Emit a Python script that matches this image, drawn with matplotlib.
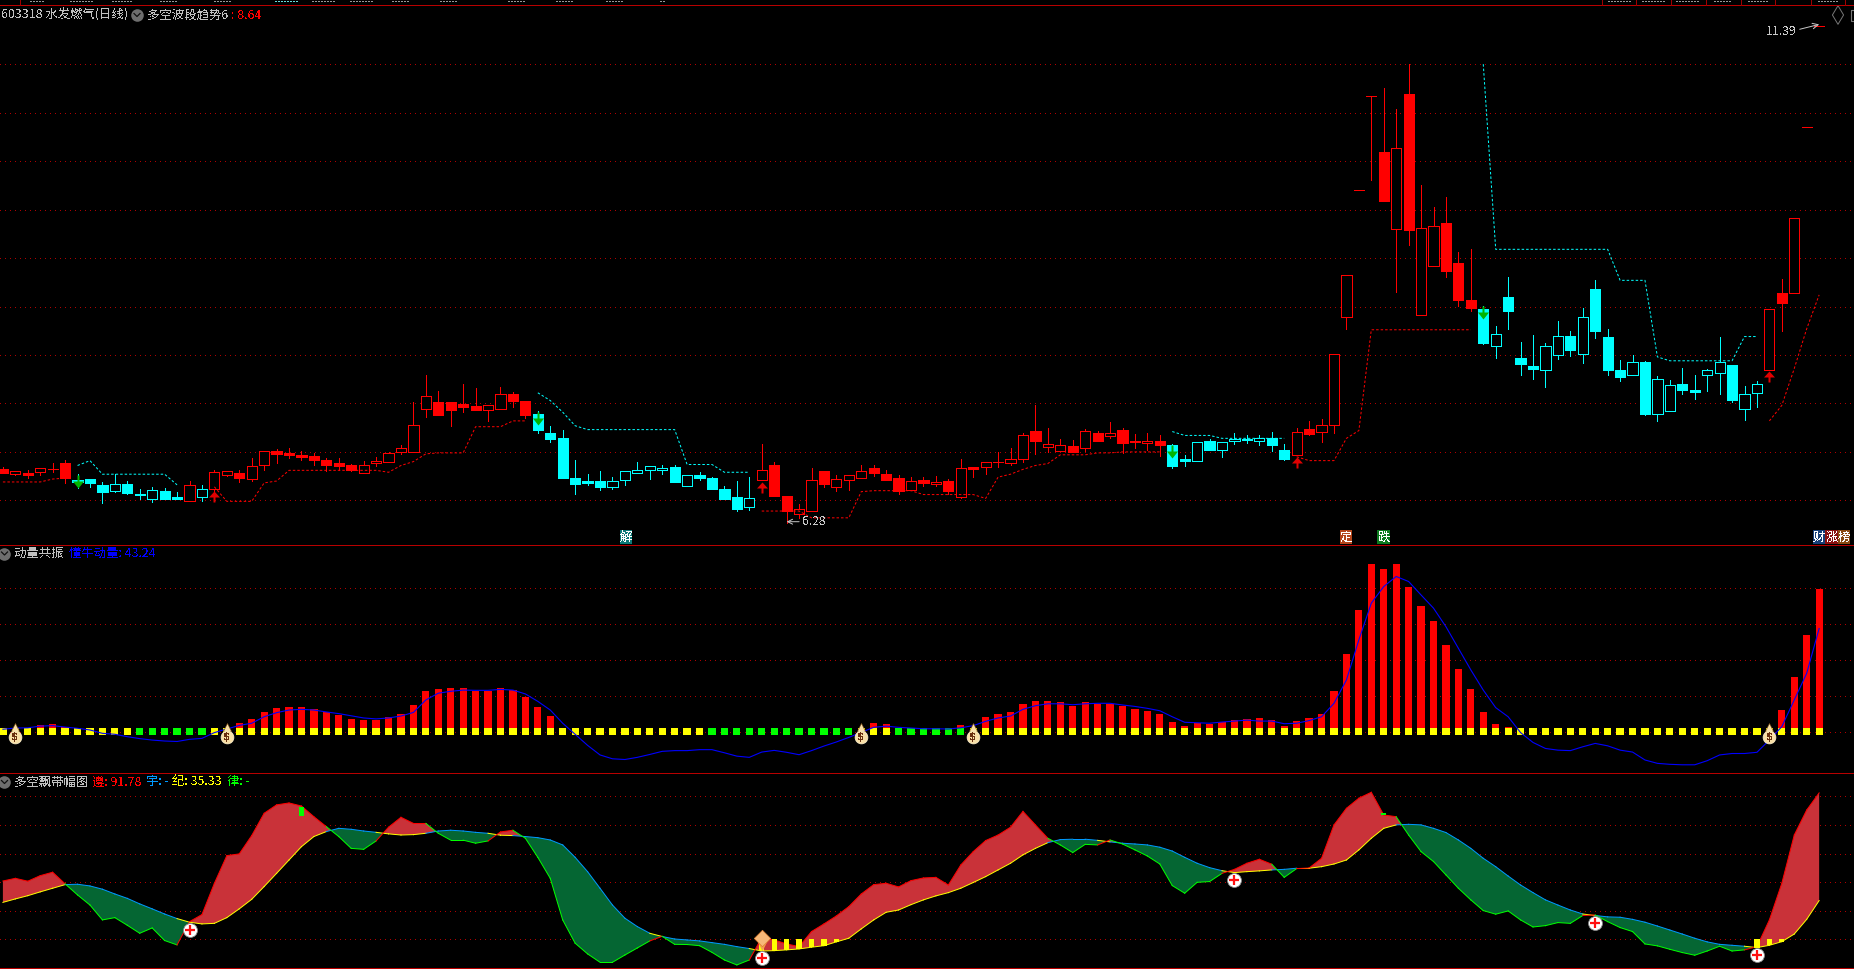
import numpy as np
import matplotlib
matplotlib.use("Agg")
import matplotlib.pyplot as plt
from matplotlib.patches import Rectangle

plt.rcParams['font.family'] = ['Noto Sans CJK SC', 'DejaVu Sans']
plt.rcParams['text.antialiased'] = False

W, H = 1854, 969

# ---------- main panel: daily candles ----------
opens = [6.82,6.77,6.78,6.79,6.82,6.89,6.71,6.72,6.66,6.60,
 6.67,6.57,6.51,6.60,6.53,6.49,6.54,6.62,6.76,6.78,
 6.72,6.86,7.01,6.99,6.97,6.96,6.92,6.89,6.87,6.78,
 6.89,6.90,7.00,7.00,7.44,7.51,7.52,7.49,7.47,7.43,
 7.44,7.60,7.53,7.39,7.19,7.14,6.73,6.70,6.70,6.64,
 6.71,6.78,6.81,6.81,6.84,6.65,6.76,6.73,6.62,6.53,
 6.43,6.71,6.87,6.55,6.36,6.39,6.80,6.64,6.71,6.73,
 6.83,6.77,6.73,6.61,6.71,6.67,6.70,6.53,6.84,6.84,
 6.90,6.89,6.93,7.22,7.05,7.01,7.06,7.04,7.19,7.16,
 7.23,7.11,7.09,7.11,7.07,6.93,6.91,7.11,7.02,7.11,
 7.13,7.11,7.14,7.02,6.97,7.24,7.21,7.28,8.39,9.70,
 10.67,10.09,9.30,10.69,8.41,8.92,9.36,8.95,8.57,8.47,
 8.09,8.60,7.97,7.89,7.85,8.00,8.20,8.01,8.68,8.19,
 7.85,7.79,7.93,7.39,7.42,7.70,7.64,7.79,7.81,7.90,
 7.44,7.61,7.84,8.64,8.64,10.35,11.39]
closes = [6.78,6.80,6.76,6.83,6.82,6.73,6.69,6.68,6.59,6.67,
 6.58,6.56,6.61,6.51,6.51,6.66,6.62,6.79,6.80,6.73,
 6.85,7.01,6.98,6.97,6.95,6.92,6.87,6.85,6.81,6.86,
 6.91,6.99,7.04,7.28,7.58,7.38,7.43,7.46,7.43,7.48,
 7.60,7.53,7.38,7.23,7.13,6.73,6.67,6.68,6.64,6.70,
 6.80,6.81,6.85,6.83,6.69,6.76,6.73,6.62,6.51,6.41,
 6.52,6.81,6.55,6.39,6.41,6.71,6.67,6.72,6.76,6.80,
 6.78,6.71,6.60,6.70,6.68,6.69,6.60,6.83,6.82,6.90,
 6.90,6.93,7.17,7.11,7.08,7.07,7.00,7.22,7.11,7.20,
 7.09,7.10,7.11,7.07,6.85,6.91,7.10,7.02,7.10,7.13,
 7.12,7.14,7.07,6.93,7.21,7.18,7.28,8.01,8.82,9.70,
 10.67,9.59,10.13,9.29,9.31,9.33,8.87,8.57,8.48,8.12,
 8.22,8.45,7.91,7.86,8.09,8.20,8.05,8.39,8.25,7.85,
 7.77,7.93,7.39,7.75,7.69,7.64,7.62,7.85,7.93,7.54,
 7.60,7.70,8.47,8.54,9.41,10.35,11.39]
highs = [6.84,6.80,6.81,6.83,6.89,6.92,6.77,6.72,6.69,6.77,
 6.70,6.62,6.64,6.63,6.59,6.70,6.66,6.81,6.80,6.81,
 6.94,7.01,7.03,7.04,7.01,6.99,6.94,6.94,6.88,6.91,
 6.95,7.00,7.07,7.51,7.79,7.63,7.52,7.70,7.66,7.48,
 7.67,7.62,7.53,7.42,7.27,7.23,6.92,6.77,6.80,6.74,
 6.80,6.90,6.85,6.87,6.86,6.76,6.79,6.74,6.65,6.70,
 6.74,7.08,6.90,6.55,6.46,6.83,6.80,6.76,6.76,6.87,
 6.87,6.81,6.76,6.74,6.74,6.75,6.72,6.93,6.84,6.90,
 7.00,7.04,7.19,7.48,7.25,7.13,7.12,7.24,7.22,7.31,
 7.25,7.18,7.20,7.17,7.08,6.97,7.10,7.13,7.10,7.20,
 7.17,7.17,7.21,7.08,7.25,7.32,7.34,8.01,8.82,9.70,
 10.67,10.75,10.54,11.00,9.75,9.53,9.63,9.06,9.09,8.51,
 8.30,8.80,8.13,8.21,8.12,8.35,8.25,8.48,8.77,8.27,
 7.95,8.00,7.94,7.78,7.74,7.87,7.79,7.86,8.19,7.90,
 7.68,7.73,8.47,8.78,9.41,10.35,11.39]
lows = [6.78,6.76,6.73,6.76,6.79,6.68,6.63,6.64,6.47,6.59,
 6.57,6.51,6.48,6.51,6.51,6.49,6.49,6.49,6.75,6.69,
 6.70,6.81,6.89,6.94,6.92,6.87,6.80,6.81,6.80,6.78,
 6.85,6.90,6.98,7.00,7.36,7.38,7.27,7.41,7.43,7.32,
 7.44,7.46,7.35,7.20,7.10,6.73,6.57,6.66,6.61,6.62,
 6.66,6.78,6.72,6.77,6.69,6.65,6.71,6.62,6.51,6.39,
 6.40,6.71,6.55,6.27,6.32,6.39,6.64,6.60,6.61,6.73,
 6.75,6.71,6.57,6.61,6.65,6.65,6.57,6.52,6.74,6.77,
 6.84,6.87,6.90,6.98,7.00,7.01,7.00,7.01,7.11,7.14,
 6.99,7.04,7.02,6.96,6.83,6.85,6.91,7.02,6.95,7.08,
 7.09,7.07,7.01,6.92,6.97,7.17,7.10,7.20,8.27,9.70,
 9.80,9.59,8.65,9.13,8.41,8.92,8.80,8.51,8.45,8.11,
 7.97,8.27,7.79,7.75,7.67,7.96,7.99,7.92,8.18,7.79,
 7.73,7.79,7.38,7.32,7.42,7.60,7.55,7.63,7.60,7.51,
 7.33,7.46,7.84,8.25,8.64,10.35,11.39]
# index ranges (first, last) of the bearish, cyan stretches; everything else is red
cyan_spans = [(6, 14), (16, 16), (43, 60), (94, 103), (119, 141)]

support = [6.69,6.69,6.69,6.69,6.72,6.73] + [None]*11 + [6.64,6.49,6.49,6.49,6.68,6.70,6.81,
 6.81,6.81,6.81,6.81,6.81,6.81,6.81,6.79,6.86,6.90,6.98,6.99,6.99,6.99,7.26,7.26,7.26,7.32,7.32] \
 + [None]*18 + [6.39,6.39,6.39,6.39,6.32,6.32,6.32,6.32,6.59,6.60,6.60,6.60,6.60,6.56,6.56,6.56,
 6.56,6.56,6.52,6.74,6.77,6.82,6.86,6.88,6.97,6.97,6.97,6.99,6.99,7.00,7.00,7.00,7.00] \
 + [None]*10 + [6.95,6.91,6.91,6.91,7.14,7.22,8.26,8.26,8.26,8.26,8.26,8.26,8.26,8.26,8.26] \
 + [None]*23 + [7.32,7.48,7.86,8.27,8.62]
resistance = [None]*6 + [6.86,6.91,6.77,6.77,6.77,6.77,6.77,6.77,6.66] + [None]*28 \
 + [7.61,7.53,7.41,7.27,7.23,7.23,7.23,7.23,7.23,7.23,7.23,7.23,6.87,6.87,6.87,6.79,6.79,6.79] \
 + [None]*33 + [7.21,7.17,7.17,7.17,7.14,7.14,7.14,7.14,7.14,7.14] + [None]*15 \
 + [11.00,9.09,9.09,9.09,9.09,9.09,9.09,9.09,9.09,9.09,9.09,8.77,8.77,8.77,7.98,7.94,
    7.94,7.94,7.94,7.94,7.94,8.19,8.19] + [None]*5
sell_idx = [6, 43, 94, 119]
sell_tip = [6.63, 7.28, 6.94, 8.37]
buy_idx = [17, 61, 104, 142]
buy_tip = [6.60, 6.69, 6.95, 7.83]
price_grid = [11.0, 10.5, 10.0, 9.5, 9.0, 8.5, 8.0, 7.5, 7.0, 6.5]
last_value = 8.64
low_label, high_label = 6.28, 11.39

# ---------- momentum panel ----------
momentum_bars = {3:2.9,4:3.5,5:2.2,
 19:3.9,20:5.6,21:8.5,22:10.1,23:10.6,24:10.6,25:9.6,26:8.6,27:7.2,28:5.6,29:5.1,30:5.1,31:6.4,
 32:7.6,33:11.4,34:17.2,35:18.1,36:18.5,37:18.5,38:17.2,39:17.2,40:18.5,41:17.6,42:14.7,43:10.6,44:6.8,
 70:3.9,71:3.5,77:3.1,
 79:6.4,80:7.6,81:8.5,82:11.8,83:13.1,84:13.1,85:12.6,86:11.1,87:12.6,88:11.9,89:11.9,90:11.1,91:9.7,
 92:9.0,93:7.6,94:4.3,95:2.6,96:3.9,97:3.5,98:4.3,99:5.1,100:5.6,101:6.0,102:5.1,103:2.6,104:4.7,
 105:6.0,106:7.6,107:17.2,108:32.6,109:51.0,110:70.1,111:68.1,112:70.1,113:60.6,114:52.6,115:46.4,
 116:36.4,117:26.4,118:18.1,119:8.5,120:3.5,121:2.2,
 143:9.3,144:23.1,145:40.6,146:59.7}
momentum_line = [1.3,1.8,1.9,2.6,2.8,2.2,1.7,1.0,-0.4,-0.8,-1.8,-2.6,-3.2,-3.6,-3.8,-2.9,-2.5,-0.1,1.4,2.9,
 3.8,6.5,8.2,9.3,9.6,9.3,8.5,7.8,6.9,6.0,5.6,6.0,6.8,8.3,13.5,16.3,17.1,17.6,17.5,17.5,
 17.9,17.6,16.0,12.9,9.3,3.8,-0.8,-5.4,-9.4,-11.0,-11.3,-10.4,-9.2,-7.9,-7.6,-7.6,-7.2,-7.2,-8.5,-9.9,
 -10.4,-8.2,-7.5,-8.3,-9.3,-7.6,-5.7,-4.0,-2.1,0.0,2.1,2.6,2.1,1.8,1.5,1.5,1.4,1.9,2.8,4.6,
 6.0,6.8,9.6,11.1,11.9,11.9,11.5,11.9,12.1,12.1,11.4,10.8,10.0,9.0,6.5,4.2,4.0,3.8,4.3,4.7,
 5.1,4.7,4.7,3.6,3.8,4.9,6.5,12.1,21.8,38.5,53.8,60.7,64.9,62.8,57.2,51.7,44.0,35.0,26.0,17.6,
 10.3,6.5,-0.1,-4.2,-6.7,-7.4,-7.6,-6.0,-4.6,-5.6,-7.4,-8.2,-11.5,-12.9,-13.3,-13.5,-13.5,-11.8,-9.4,-8.8,
 -8.8,-8.3,-3.2,2.4,13.5,24.6,43.24]
green_spans = [(11, 16), (57, 68), (72, 77)]
coin_idx = [1, 18, 69, 78, 142]
momentum_grid = [60, 45, 30, 15, 0]

# ---------- ribbon panel ----------
ribbon_slow = [34.4,36.2,37.9,39.9,41.8,43.7,43.9,43.0,41.3,38.8,36.5,33.6,31.0,28.3,25.9,24.0,23.1,23.4,26.4,31.0,
 36.0,42.7,49.6,56.6,63.6,68.9,71.5,73.2,72.7,71.8,71.1,70.3,69.7,69.9,70.6,71.8,72.2,71.8,71.1,70.6,
 69.6,69.4,68.9,68.3,67.1,64.5,58.0,50.5,41.8,33.0,26.1,21.7,18.2,16.5,15.2,14.7,14.2,13.3,12.4,11.2,
 10.2,8.9,9.1,9.5,10.0,10.9,11.7,13.7,15.6,20.5,25.2,29.2,30.4,33.2,35.7,37.8,39.5,41.8,44.8,47.9,
 51.4,54.9,59.3,62.7,65.7,67.3,67.5,67.5,66.9,66.1,65.4,65.0,64.5,63.3,61.3,58.0,54.9,52.6,51.0,50.0,
 50.5,50.9,51.4,51.7,52.3,52.3,53.1,54.5,56.6,61.9,68.0,73.2,75.0,75.3,75.0,73.2,71.0,67.1,62.7,57.5,
 53.1,48.2,43.5,39.5,35.7,33.0,30.4,28.3,27.5,26.8,26.6,25.5,24.0,22.0,19.9,17.8,15.6,13.7,12.4,11.9,
 11.4,10.7,11.9,13.8,17.8,25.5,35.33]
ribbon_fast = [45.6,47.0,45.5,48.4,50.2,44.1,38.3,33.0,25.2,26.4,22.4,18.2,21.0,14.4,12.1,24.3,28.0,44.4,58.9,59.8,
 69.4,81.1,85.5,86.5,84.9,79.3,74.1,68.9,62.7,62.2,66.6,73.8,79.0,75.8,75.8,70.6,67.0,67.0,65.4,66.6,
 71.3,72.2,68.0,58.0,47.0,25.2,13.0,7.4,3.0,3.0,6.8,10.5,14.2,16.6,12.4,12.3,11.7,8.2,4.2,1.6,
 4.2,15.9,14.7,12.6,11.2,19.1,23.1,27.3,32.2,38.8,43.7,44.4,42.5,45.8,47.2,47.5,43.5,54.0,61.0,66.8,
 69.7,73.8,82.1,75.0,68.0,64.5,60.5,64.8,64.5,67.1,65.0,61.9,58.7,54.5,43.2,39.2,44.9,45.3,49.6,51.7,
 54.9,57.0,54.4,47.5,52.1,52.4,57.5,75.0,83.7,89.0,92.1,80.2,79.3,69.7,61.0,55.8,48.8,41.8,35.7,30.1,
 28.2,29.9,25.2,21.5,22.2,23.8,23.4,27.5,27.8,24.3,21.2,19.1,12.6,11.6,9.8,8.1,6.7,8.9,11.4,8.9,
 9.5,11.2,25.2,44.4,69.7,82.8,91.78]
plus_idx = [15, 61, 99, 128, 141]
plus_val = [19.9, 5.1, 46.1, 23.6, 6.8]
ribbon_grid = [90, 75, 60, 45, 30, 15]
ribbon_floor = 15
tick_idx = [24, 111]
tick_lo = [79.5, 80.0]
tick_hi = [84.2, 81.0]
ribbon_vals = {'遵': 91.78, '纪': 35.33}

# ---------- layout ----------
RED, CYAN, GRID = '#ff0000', '#00ffff', '#b00000'
BAG = '#f8dfa6'

fig = plt.figure(figsize=(W / 100, H / 100), dpi=100, facecolor='black')
X0, DX = 2.9, 12.44
xlim = (-X0 / DX, (W - X0) / DX)


def panel(y_top, y_bot, ylim):
    ax = fig.add_axes([0, 1 - y_bot / H, 1, (y_bot - y_top) / H])
    ax.set_xlim(*xlim)
    ax.set_ylim(*ylim)
    ax.axis('off')
    return ax


def hgrid(ax, vals):
    for v in vals:
        ax.axhline(v, color=GRID, lw=0.72, ls=(0, (1, 4.5)), zorder=0, antialiased=False)


ax1 = panel(6, 544, (6.05, 11.60))
ax2 = panel(545, 772, (-16.5, 78.0))
ax3 = panel(773, 968, (0.0, 102.2))

# --- candles
hgrid(ax1, price_grid)
o, c, hi, lo = map(np.array, (opens, closes, highs, lows))
n = len(o)
col = [RED] * n
for a, b in cyan_spans:
    for i in range(a, b + 1):
        col[i] = CYAN
x = np.arange(n)
ax1.vlines(x, lo, hi, colors=col, lw=0.72, zorder=2, antialiased=False)
BW = 0.82
for i in range(n):
    top, bot = max(o[i], c[i]), min(o[i], c[i])
    face = 'black' if c[i] > o[i] else col[i]
    ax1.add_patch(Rectangle((i - BW / 2, bot), BW, top - bot, facecolor=face,
                            edgecolor=col[i], lw=0.5, zorder=3, antialiased=False))
ax1.plot(x, np.array(support, float), color=RED, lw=0.72, ls=(0, (2.5, 2)), zorder=4)
ax1.plot(x, np.array(resistance, float), color=CYAN, lw=0.72, ls=(0, (2.5, 2)), zorder=4)

down_arrow = [(-1, 13), (1, 13), (1, 7), (5.5, 7), (0, 0), (-5.5, 7), (-1, 7)]
up_arrow = [(-1, -11), (1, -11), (1, -6), (5.5, -6), (0, 0), (-5.5, -6), (-1, -6)]
ax1.scatter(sell_idx, sell_tip, marker=down_arrow, s=350, color='#00b400', linewidths=0, zorder=5)
ax1.scatter(buy_idx, buy_tip, marker=up_arrow, s=251, color='#e00000', linewidths=0, zorder=5)

LABEL = '#c8c8c8'
ax1.annotate(f'{low_label:.2f}', xy=(63, low_label), xytext=(11, 0), textcoords='offset points',
             color=LABEL, fontsize=8.8, va='center', ha='left', zorder=6,
             arrowprops=dict(arrowstyle='->', color=LABEL, lw=0.7, shrinkA=0, shrinkB=0))
ax1.annotate(f'{high_label:.2f}', xy=(146, high_label), xytext=(-38, -4), textcoords='offset points',
             color=LABEL, fontsize=8.8, va='center', ha='left', zorder=6)
ax1.annotate('', xy=(146, high_label + 0.02), xytext=(-14, -3.5), textcoords='offset points',
             arrowprops=dict(arrowstyle='->', color=LABEL, lw=0.7, shrinkA=0, shrinkB=0), zorder=6)

# --- momentum
hgrid(ax2, momentum_grid)
ax2.bar(list(momentum_bars), list(momentum_bars.values()), width=0.58, color=RED, linewidth=0, zorder=2)
sq = ['#ffff00'] * n
for a, b in green_spans:
    for i in range(a, b + 1):
        sq[i] = '#00ff00'
ax2.bar(x, 3.0, bottom=-1.1, width=0.58, color=sq, linewidth=0, zorder=3)
ax2.plot(x, momentum_line, color='#0000ff', lw=0.8, zorder=4)
ax2.scatter(coin_idx, [2.2] * len(coin_idx), marker='^', s=34, color=BAG, edgecolors='#7a4a10', linewidths=0.4, zorder=5)
ax2.scatter(coin_idx, [-1.9] * len(coin_idx), marker='o', s=85, color=BAG, edgecolors='#fff3d0', linewidths=0.5, zorder=5)
for i in coin_idx:
    ax2.text(i, -2.0, '$', color='#6a3010', fontsize=7.5, fontweight='bold', ha='center', va='center',
             family='DejaVu Sans', zorder=6)

# --- ribbon
hgrid(ax3, ribbon_grid)
slow, fast = np.array(ribbon_slow), np.array(ribbon_fast)
ax3.fill_between(x, slow, fast, where=fast >= slow, interpolate=True, color='#c93239', linewidth=0, zorder=2)
ax3.fill_between(x, slow, fast, where=fast < slow, interpolate=True, color='#056633', linewidth=0, zorder=2)
for i in range(n - 1):
    bull = fast[i + 1] >= slow[i + 1]
    ax3.plot(x[i:i + 2], slow[i:i + 2], color='#ffff00' if bull else '#0099ff', lw=0.72, zorder=3)
    ax3.plot(x[i:i + 2], fast[i:i + 2], color=RED if bull else '#00ff00', lw=0.72, zorder=3)
low_zone = (fast >= slow) & (slow < ribbon_floor)
ax3.bar(x[low_zone], ribbon_floor - slow[low_zone], bottom=slow[low_zone], width=0.42,
        color='#ffff00', linewidth=0, zorder=4)
ax3.bar(tick_idx, np.array(tick_hi) - np.array(tick_lo), bottom=tick_lo, width=0.4,
        color='#00ff00', linewidth=0, zorder=4)
ax3.scatter(plus_idx, plus_val, s=100, color='white', edgecolors='#888888', linewidths=0.6, zorder=6)
ax3.scatter(plus_idx, plus_val, s=45, marker='+', color='#ff1010', linewidths=1.6, zorder=7)
ax3.scatter([61], [12.0], s=70, marker='v', color='#f2a04e', linewidths=0, zorder=6)
ax3.scatter([61], [15.5], s=70, marker='D', color='#f7b878', edgecolors='#e08030', linewidths=0.5, zorder=6)

# --- chrome in figure pixels
overlay = fig.add_axes([0, 0, 1, 1], zorder=20)
overlay.set_xlim(0, W)
overlay.set_ylim(H, 0)
overlay.axis('off')

for y in (5.3, 544.5, 773, 968):
    overlay.axhline(y, color='#b80000', lw=0.72, antialiased=False)
for px in (20, 1602, 1636, 1671, 1706, 1741, 1775, 1811, 1845):
    overlay.plot([px, px], [0, 5], color='#a00000', lw=0.72, antialiased=False)
for a, b, cc in [(30, 44, '#999'), (70, 92, '#999'), (112, 132, '#999'), (160, 176, '#999'), (214, 232, '#999'),
                 (275, 298, '#6dd'), (312, 336, '#999'), (350, 372, '#999'), (392, 408, '#999'), (440, 456, '#999'),
                 (508, 524, '#999'), (556, 574, '#999'), (606, 622, '#999'), (660, 664, '#999'),
                 (1608, 1630, '#999'), (1642, 1665, '#999'), (1676, 1700, '#999'), (1714, 1732, '#999'),
                 (1748, 1768, '#999'), (1818, 1838, '#999')]:
    overlay.plot([a, b], [0.6, 0.6], color=cc, lw=0.72, ls=(0, (2, 2)), antialiased=False)


def label(px, py, s, color, size=8.9):
    overlay.text(px, py, s, color=color, fontsize=size, va='center', ha='left')


def chevron(px, py):
    overlay.scatter([px], [py], s=82, color='#6e6e6e', linewidths=0)
    overlay.plot([px - 3, px, px + 3], [py - 1.5, py + 1.5, py - 1.5], color='#111', lw=0.9)


GREY = '#c0c0c0'
label(1, 15, '603318 水发燃气(日线)', GREY)
chevron(137, 15)
label(147, 15, '多空波段趋势6', GREY)
label(231, 15, f': {last_value:.2f}', RED)

chevron(4.5, 553.5)
label(14, 553.5, '动量共振', GREY)
label(69, 553.5, f'懂牛动量: {momentum_line[-1]:.2f}', '#0000ff')

chevron(4.5, 782)
label(14, 782, '多空飘带幅图', GREY)
label(92, 782, f'遵: {ribbon_vals["遵"]:.2f}', RED)
label(146, 782, '宇: -', '#0099ff')
label(172, 782, f'纪: {ribbon_vals["纪"]:.2f}', '#ffff00')
label(227, 782, '律: -', '#00ff00')

overlay.scatter([1838], [15], marker='d', s=90, facecolors='none', edgecolors='#777777', linewidths=0.7)
overlay.add_patch(Rectangle((1851, 10), 6, 11, facecolor='none', edgecolor='#777777', lw=0.8))

for px, s, bg in [(620, '解', '#0b7a78'), (1340, '定', '#b4461c'), (1377.5, '跌', '#0b7a1e'),
                  (1813, '财', '#173f78'), (1825.5, '涨', '#8a1010'), (1838, '榜', '#8a4a12')]:
    overlay.add_patch(Rectangle((px, 530), 12.5, 14, facecolor=bg, edgecolor='none'))
    overlay.text(px + 6.2, 537, s, color='white', fontsize=8.9, ha='center', va='center')

fig.savefig('out.png', dpi=100, facecolor='black')
